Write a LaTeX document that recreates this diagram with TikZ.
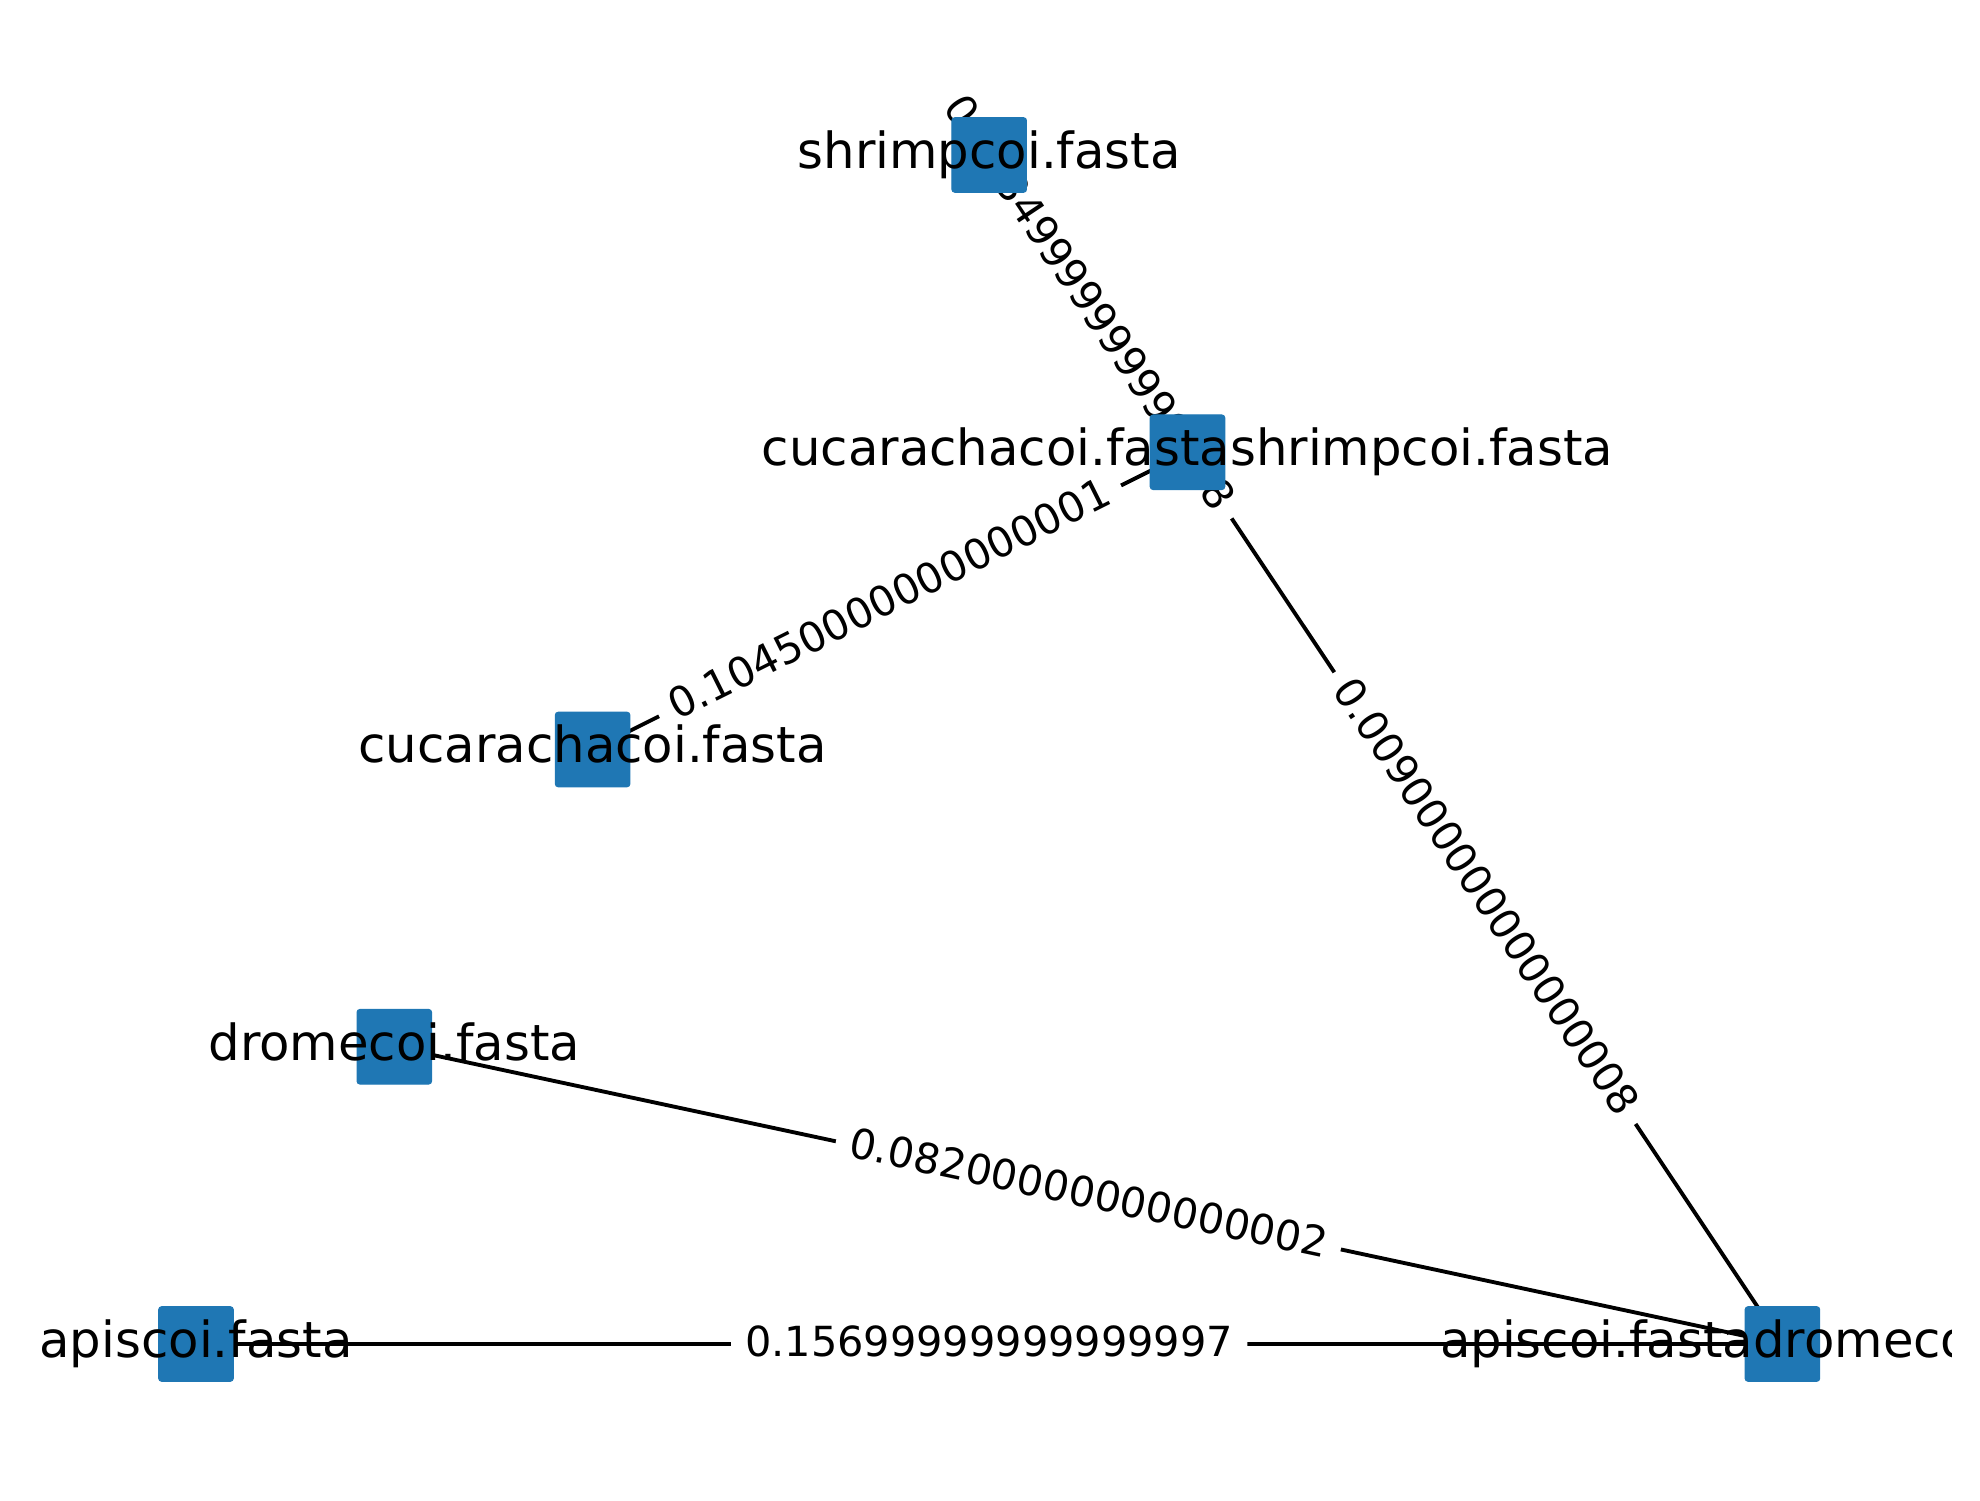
\documentclass[tikz,border=0pt]{standalone}
\usepackage{fontspec}
\setmainfont{DejaVu Sans}
\definecolor{nodeblue}{RGB}{31,119,180}
\pgfdeclarelayer{edgelayer}
\pgfdeclarelayer{labellayer}
\pgfdeclarelayer{textlayer}
\pgfsetlayers{edgelayer,labellayer,main,textlayer}
\tikzset{
  sq/.style={rectangle, fill=nodeblue, draw=nodeblue, line width=0.3pt, rounded corners=0.8pt, minimum size=0.745cm, inner sep=0pt},
  ntext/.style={inner sep=0pt, font=\fontsize{14.15}{17}\selectfont, text height=0.89em, text depth=0.13em, anchor=center},
  edgeline/.style={line width=1.1pt, black},
  elabel/.style={fill=white, rounded corners=3pt, inner xsep=4pt, inner ysep=3.5pt, font=\fontsize{11.8}{14}\selectfont, text height=0.85em, text depth=0.15em, midway, sloped}
}
\begin{document}
\begin{tikzpicture}
\useasboundingbox (0,0) rectangle (19.8,15);
% node squares
\node[sq] (apis) at (1.96,1.56) {};
\node[sq] (drome) at (3.943,4.5325) {};
\node[sq] (cuc) at (5.926,7.505) {};
\node[sq] (shrimp) at (9.892,13.45) {};
\node[sq] (cucshrimp) at (11.875,10.4775) {};
\node[sq] (apisdrome) at (17.824,1.56) {};
% edges
\begin{pgfonlayer}{edgelayer}
\draw[edgeline] (shrimp.center) -- (cucshrimp.center);
\draw[edgeline] (cuc.center) -- (cucshrimp.center);
\draw[edgeline] (cucshrimp.center) -- (apisdrome.center);
\draw[edgeline] (drome.center) -- (apisdrome.center);
\draw[edgeline] (apis.center) -- (apisdrome.center);
\end{pgfonlayer}
% edge labels
\begin{pgfonlayer}{labellayer}
\path (shrimp.center) -- (cucshrimp.center) node[elabel] (l1) {0.00349999999999998};
\path (cuc.center) -- (cucshrimp.center) node[elabel] (l2) {0.10450000000000001};
\path (cucshrimp.center) -- (apisdrome.center) node[elabel] (l3) {0.009000000000000008};
\path (drome.center) -- (apisdrome.center) node[elabel] (l4) {0.08200000000000002};
\path (apis.center) -- (apisdrome.center) node[elabel] (l5) {0.15699999999999997};
\end{pgfonlayer}
% node texts
\begin{pgfonlayer}{textlayer}
\begin{scope}
\clip (0,0) rectangle (19.51,15);
\node[ntext] (apis-t) at (apis.center) {apiscoi.fasta};
\node[ntext] (drome-t) at (drome.center) {dromecoi.fasta};
\node[ntext] (cuc-t) at (cuc.center) {cucarachacoi.fasta};
\node[ntext] (shrimp-t) at (shrimp.center) {shrimpcoi.fasta};
\node[ntext] (cucshrimp-t) at (cucshrimp.center) {cucarachacoi.fastashrimpcoi.fasta};
\node[ntext] (apisdrome-t) at (apisdrome.center) {apiscoi.fastadromecoi.fasta};
\end{scope}
\end{pgfonlayer}
\end{tikzpicture}
\end{document}
